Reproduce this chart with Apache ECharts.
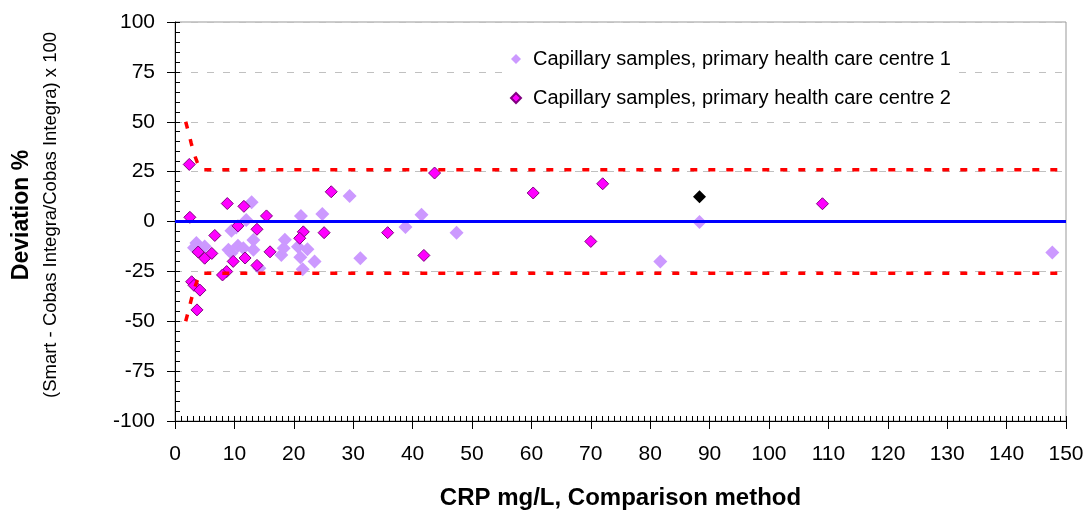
<!DOCTYPE html>
<html>
<head>
<meta charset="utf-8">
<script src="https://cdn.jsdelivr.net/npm/echarts@6/dist/echarts.min.js"></script>
<style>
html, body { margin: 0; padding: 0; background: #fff; }
#main { width: 1088px; height: 511px; }
</style>
</head>
<body>
<div id="main"></div>
<script>
var myChart = echarts.init(document.getElementById('main'));

// CRP (mg/L) vs deviation (%)
var centre1 = [
    [3.2, -13.2], [3.6, -10.8], [5.0, -12.5], [9.0, -14.2], [9.5, -4.6],
    [10.3, -3.0], [10.6, -12.2], [11.5, -13.4], [12.0, 0.7], [12.9, 9.6],
    [13.2, -9.3], [13.2, -14.2], [14.2, -23.4], [9.5, -15.8], [18.5, -9.2],
    [17.9, -16.8], [18.3, -13.4], [21.2, 2.8], [24.8, 3.8], [29.4, 12.8],
    [20.7, -12.6], [22.3, -13.9], [21.1, -17.9], [23.5, -20.1], [21.5, -23.9],
    [31.2, -18.4], [41.5, 3.4], [38.8, -2.8], [47.4, -5.6], [81.7, -20.1],
    [88.3, -0.3], [147.7, -15.6]
];
var centre2 = [
    [2.4, 28.6], [2.5, 2.1], [8.8, 9.0], [11.6, 7.6], [15.4, 2.8],
    [10.6, -2.2], [13.8, -3.9], [6.7, -7.0], [3.9, -15.3], [5.0, -18.4],
    [6.2, -16.0], [9.8, -20.0], [11.8, -18.3], [16.0, -15.2], [13.8, -22.0],
    [8.7, -25.1], [8.0, -26.8], [2.8, -30.2], [3.2, -32.0], [4.2, -34.4],
    [3.7, -44.3], [26.3, 14.9], [21.6, -5.2], [21.0, -8.4], [25.1, -5.6],
    [35.8, -5.6], [43.7, 24.3], [60.3, 14.3], [72.0, 18.9], [70.0, -10.0],
    [41.9, -17.0], [109.0, 8.9]
];
var outlier = [[88.3, 12.4]];

var zeroLine = [[0, 0], [150, 0]];
var limitUpper = [[1.8, 50], [2.2, 45.5], [2.7, 39.6], [3.2, 34], [3.75, 29.6], [4.3, 26], [150, 26]];
var limitLower = [[1.8, -50], [2.2, -45.5], [2.7, -39.6], [3.2, -34], [3.75, -29.6], [4.3, -26], [150, -26]];

var name1 = 'Capillary samples, primary health care centre 1';
var name2 = 'Capillary samples, primary health care centre 2';

var font = '"Liberation Sans", Arial, sans-serif';

option = {
    backgroundColor: '#fff',
    animation: false,
    textStyle: { fontFamily: font },
    grid: {
        left: 175, right: 22, top: 22, bottom: 90,
        outerBoundsMode: 'none',
        containLabel: false,
        show: true,
        borderColor: '#999',
        borderWidth: 1
    },
    legend: {
        data: [name1, name2],
        orient: 'vertical',
        left: 504,
        top: 43,
        icon: 'diamond',
        itemWidth: 10,
        itemHeight: 10,
        itemGap: 19,
        backgroundColor: '#fff',
        padding: [6, 8, 6, 6],
        textStyle: { fontSize: 20, color: '#000', fontFamily: font, padding: [0, 0, 0, 7] }
    },
    graphic: [
        {
            type: 'text', x: 22, y: 215, rotation: Math.PI / 2,
            style: {
                text: 'Deviation %', font: 'bold 23px ' + font, fill: '#000',
                align: 'center', verticalAlign: 'middle',
                textAlign: 'center', textVerticalAlign: 'middle'
            }
        },
        {
            type: 'text', x: 51, y: 215, rotation: Math.PI / 2,
            style: {
                text: '(Smart - Cobas Integra/Cobas Integra) x 100', font: '18.5px ' + font, fill: '#000',
                align: 'center', verticalAlign: 'middle',
                textAlign: 'center', textVerticalAlign: 'middle'
            }
        }
    ],
    xAxis: [{
        type: 'value', min: 0, max: 150, interval: 10,
        name: 'CRP mg/L, Comparison method',
        nameLocation: 'middle',
        nameGap: 65,
        nameTextStyle: { fontSize: 24, fontWeight: 'bold', color: '#000', fontFamily: font },
        axisLine: { show: true, onZero: false, lineStyle: { color: '#000', width: 1 } },
        axisTick: { show: true, length: 8, lineStyle: { color: '#000' } },
        axisLabel: { fontSize: 21, color: '#000', margin: 23, fontFamily: font },
        splitLine: { show: false }
    }, {
        type: 'value', min: 0, max: 150, interval: 10, position: 'bottom',
        axisLine: { show: false, onZero: false },
        axisTick: { show: true, inside: true, length: 5, lineStyle: { color: '#000' } },
        minorTick: { show: true, splitNumber: 10, length: 5, lineStyle: { color: '#000' } },
        axisLabel: { show: false },
        splitLine: { show: false }
    }],
    yAxis: [{
        type: 'value', min: -100, max: 100, interval: 25,
        axisLine: { show: true, onZero: false, lineStyle: { color: '#000', width: 1 } },
        axisTick: { show: true, length: 8, lineStyle: { color: '#000' } },
        axisLabel: { fontSize: 21, color: '#000', margin: 20, fontFamily: font },
        splitLine: { show: true, lineStyle: { color: '#c0c0c0', type: [7, 9], width: 1 } }
    }, {
        type: 'value', min: -100, max: 100, interval: 25, position: 'left',
        axisLine: { show: false, onZero: false },
        axisTick: { show: true, inside: true, length: 5, lineStyle: { color: '#000' } },
        minorTick: { show: true, splitNumber: 5, length: 5, lineStyle: { color: '#000' } },
        axisLabel: { show: false },
        splitLine: { show: false }
    }],
    series: [{
        type: 'line', data: zeroLine, symbol: 'none', silent: true,
        lineStyle: { color: '#0000ff', width: 3 }
    }, {
        type: 'line', data: limitUpper, symbol: 'none', silent: true,
        lineStyle: { color: '#ff0000', width: 3.5, type: [7, 11] }
    }, {
        type: 'line', data: limitLower, symbol: 'none', silent: true,
        lineStyle: { color: '#ff0000', width: 3.5, type: [7, 11] }
    }, {
        name: name1, type: 'scatter', data: centre1,
        symbol: 'diamond', symbolSize: 14,
        itemStyle: { color: '#cc99ff', opacity: 1 }
    }, {
        name: name2, type: 'scatter', data: centre2,
        symbol: 'diamond', symbolSize: 12,
        itemStyle: { color: '#ff00ff', borderColor: '#800080', borderWidth: 1, opacity: 1 }
    }, {
        name: 'outlier', type: 'scatter', data: outlier,
        symbol: 'diamond', symbolSize: 13,
        itemStyle: { color: '#000', opacity: 1 }
    }]
};

myChart.setOption(option);
</script>
</body>
</html>
